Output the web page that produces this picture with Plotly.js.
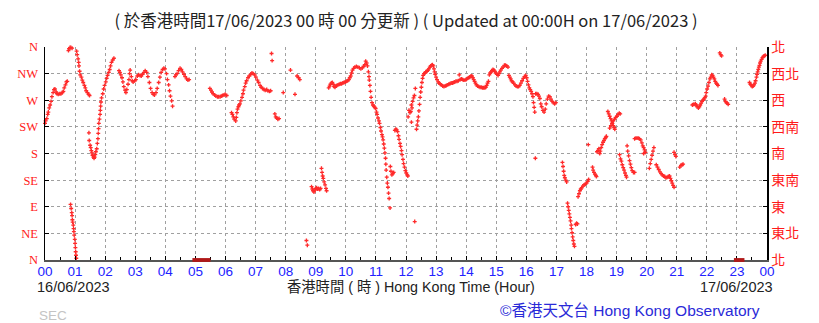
<!DOCTYPE html>
<html>
<head>
<meta charset="utf-8">
<script src="https://cdn.plot.ly/plotly-3.0.1.min.js"></script>
<style>html,body{margin:0;padding:0;background:#fff;}#chart{width:819px;height:323px;}</style>
</head>
<body>
<div id="chart"></div>
<script>
// Hour of day (16/06/2023 00:00 -> 17/06/2023 00:00)
const hours = [
0.00,0.02,0.06,0.09,0.11,0.14,0.17,0.20,0.23,0.27,0.30,0.33,0.37,0.40,0.44,0.49,0.53,0.58,0.61,0.64,0.68,0.71,0.74,
0.78,0.80,0.83,0.86,0.90,
0.85,0.87,0.89,0.90,0.91,0.92,0.94,0.95,0.96,0.97,0.99,1.00,1.01,1.02,1.03,1.04,
1.05,1.07,1.10,1.12,1.13,1.15,1.17,1.21,1.24,1.27,1.31,1.34,1.37,1.41,1.45,1.48,
1.46,1.47,1.50,1.52,1.54,1.56,1.58,1.61,1.63,1.65,1.67,1.69,1.72,1.74,1.76,1.77,1.78,1.79,1.81,1.83,1.84,1.85,1.86,1.88,1.92,1.95,1.98,2.02,2.05,2.08,2.12,2.15,2.18,2.21,2.25,2.29,
2.46,2.49,2.52,2.56,2.59,2.62,2.66,2.69,2.72,2.76,2.79,2.81,2.83,2.87,2.90,2.93,2.98,3.02,3.07,3.11,3.16,3.20,3.24,3.29,3.33,3.38,3.42,3.47,3.51,3.56,3.60,3.64,3.69,3.73,3.78,3.82,3.86,3.91,3.95,3.99,4.04,4.07,4.11,4.14,4.17,4.21,4.24,
4.32,4.35,4.39,4.44,4.49,4.53,4.57,4.62,4.66,4.71,4.75,4.79,
5.48,5.52,5.55,5.59,5.64,5.68,5.73,5.77,5.82,5.86,5.90,5.95,5.99,6.04,
6.20,6.23,6.26,6.29,6.34,6.36,6.38,6.40,6.43,6.45,6.48,6.51,6.55,6.58,6.60,6.64,6.67,6.70,6.75,6.79,6.84,6.88,6.92,6.97,7.01,7.06,7.10,7.15,7.19,7.23,7.28,7.32,7.37,7.41,7.46,7.50,
7.53,7.55,7.64,7.67,7.70,7.74,7.78,7.92,8.16,8.31,8.38,8.43,8.47,8.69,8.72,
8.86,8.89,8.91,8.94,8.97,9.00,9.03,9.06,9.09,9.13,9.16,9.19,9.21,9.23,9.25,9.28,9.31,9.34,9.36,
9.43,9.46,9.49,9.52,9.55,9.58,9.61,9.64,9.67,9.70,9.74,9.78,9.82,9.86,9.90,9.94,9.98,10.02,10.06,10.10,10.13,10.16,10.19,10.22,10.26,10.30,10.35,10.40,10.45,10.50,10.55,10.59,10.63,10.66,10.69,10.72,
10.75,10.77,10.78,10.80,10.82,10.84,10.87,10.90,10.93,10.96,10.99,11.02,11.04,11.07,11.10,11.12,11.15,11.17,11.20,11.22,11.24,11.26,11.28,11.30,11.32,11.33,11.34,11.36,11.38,11.40,11.42,11.44,11.47,
11.48,11.50,11.53,11.56,11.59,
11.63,11.66,11.69,11.72,11.75,11.77,11.80,11.82,11.85,11.87,11.90,11.92,11.95,11.98,12.01,12.04,12.06,
12.07,12.10,12.13,12.16,12.18,12.18,12.20,12.22,12.25,12.28,12.31,12.29,
12.35,12.37,12.39,12.41,12.43,12.45,12.47,12.49,12.51,12.53,12.55,12.57,12.60,
12.63,12.66,12.70,12.73,12.76,12.79,12.82,12.85,12.88,12.91,12.93,12.95,12.97,13.00,13.03,13.07,13.10,13.14,13.18,13.22,13.26,13.30,13.34,13.38,13.42,13.46,13.50,13.54,13.58,13.62,13.66,13.70,13.74,13.77,13.80,13.84,13.88,13.92,13.96,14.00,14.04,14.08,14.12,14.16,14.19,14.22,14.25,14.28,14.31,14.34,14.38,14.42,14.46,14.50,14.54,14.58,14.62,14.65,14.68,14.71,14.74,14.77,14.80,14.83,14.86,14.89,14.92,14.95,14.98,15.02,15.06,15.09,15.12,15.15,15.19,15.23,15.27,15.31,15.35,15.39,15.42,15.45,15.48,15.51,15.54,15.58,15.62,15.66,15.70,15.74,15.78,15.82,15.86,15.90,15.94,15.98,
16.01,16.04,16.07,16.10,16.13,16.16,16.19,16.22,16.24,16.26,16.28,
16.31,16.35,16.39,16.42,16.45,16.48,16.51,16.55,16.59,16.63,16.66,16.70,16.74,16.78,16.82,16.86,16.90,16.94,16.98,16.30,
17.20,17.22,17.24,17.26,17.28,17.31,17.34,
17.37,17.39,17.41,17.43,17.45,17.47,17.49,17.50,17.52,17.54,17.56,17.58,17.60,
17.64,17.67,17.70,
17.72,17.75,17.78,17.81,17.84,17.88,17.92,17.96,18.00,18.04,18.07,18.06,
18.20,18.22,18.25,18.28,18.31,18.33,
18.35,18.38,18.41,18.44,18.46,18.49,18.52,18.55,18.58,18.61,18.64,18.66,
18.71,18.74,18.77,18.80,18.83,18.86,18.89,18.92,18.94,
18.77,18.81,18.85,18.89,18.93,18.97,19.01,19.05,19.09,19.12,
19.10,19.13,19.16,19.19,19.22,19.25,19.28,19.31,19.33,
19.35,19.37,19.40,19.43,19.46,19.49,19.52,19.56,19.60,
19.60,19.64,19.68,19.72,19.76,19.80,19.84,19.87,19.90,19.93,19.96,19.90,
20.09,20.12,20.15,20.18,20.21,20.24,
20.32,20.36,20.40,20.44,20.48,20.52,20.56,20.60,20.64,20.68,20.72,20.76,20.79,20.82,20.85,20.88,20.91,
20.91,20.94,20.97,
21.10,21.14,21.18,21.21,
21.52,21.55,21.58,21.62,21.65,21.68,21.72,21.75,21.78,21.81,21.84,21.87,21.90,21.93,21.96,21.98,22.01,22.04,22.07,22.10,22.13,22.16,22.19,22.22,22.25,22.28,22.31,22.34,22.37,
22.43,22.46,22.49,
22.59,22.62,22.65,22.68,22.71,
23.42,23.45,23.48,23.51,23.54,23.57,23.60,23.62,23.65,23.67,23.69,23.71,23.73,23.75,23.77,23.79,23.82,23.85,23.88,23.91,23.94
];
// Wind direction in degrees (0 = N, 90 = E, 180 = S, 270 = W, 360 = N)
const directions = [
231,235,239,246,250,257,262,268,276,283,288,289,284,281,280,281,281,283,285,291,296,301,302,
354,357,359,359,358,
94,87,80,75,68,64,59,53,48,42,35,28,21,14,8,3,
353,347,340,334,328,319,313,309,304,300,295,291,286,283,280,278,
215,202,194,190,185,181,177,174,172,174,178,183,188,197,205,214,222,231,238,246,253,260,267,274,281,289,295,301,307,312,317,322,328,334,338,341,
320,317,313,308,301,293,287,283,288,297,305,315,321,310,303,301,303,305,311,313,312,311,314,317,320,317,310,300,290,283,280,279,283,290,300,309,317,322,324,323,315,305,296,286,277,269,260,
310,313,315,320,324,322,318,314,310,306,304,305,
290,287,284,281,279,277,276,276,276,277,278,279,280,278,
249,246,242,238,235,241,249,255,259,262,264,269,275,281,287,293,299,303,308,311,314,316,315,313,309,304,300,295,292,290,288,287,288,286,285,286,
349,337,247,242,240,238,239,283,321,280,311,308,305,33,25,
124,120,117,115,118,121,122,120,121,119,121,155,148,142,138,132,127,121,117,
291,294,297,299,300,297,293,292,294,295,296,297,298,298,299,300,301,302,303,305,308,311,316,321,324,326,327,326,325,323,325,327,330,336,333,328,
318,310,304,295,285,275,266,262,260,258,256,250,246,240,235,231,224,218,212,208,203,196,189,181,172,162,152,140,130,123,113,104,88,
158,150,144,146,148,
219,221,220,217,210,204,197,192,185,178,170,163,157,151,147,144,142,
242,253,249,251,262,233,257,268,274,278,290,65,
221,228,235,242,252,263,275,284,292,300,307,312,315,
316,318,319,321,323,326,328,329,330,328,323,318,314,309,305,301,299,297,296,294,293,294,295,296,297,298,299,299,300,301,302,302,303,313,305,306,305,304,304,305,307,308,309,311,311,308,305,302,299,296,294,293,292,292,291,291,291,292,295,299,302,313,316,318,320,322,321,319,316,314,312,315,318,321,324,326,329,329,328,326,312,309,306,303,301,299,296,294,293,293,295,299,303,307,310,312,
308,302,296,291,288,285,281,276,266,258,250,
281,281,280,277,273,264,259,253,250,255,264,272,277,276,272,268,266,264,266,172,
165,158,150,143,139,135,132,
96,90,84,78,72,66,59,53,46,39,33,27,23,
60,62,61,
107,112,117,120,122,125,127,128,130,133,136,195,
157,152,148,145,143,141,
183,185,188,180,184,190,195,199,202,205,207,209,
251,247,243,239,235,231,227,224,221,
223,227,231,235,238,241,243,246,248,247,
178,171,167,161,156,152,147,143,140,
193,184,176,168,162,156,151,148,148,
205,206,206,206,205,203,198,193,190,186,182,180,
155,163,170,177,184,190,
161,157,153,149,146,144,142,141,139,140,141,142,138,134,130,126,123,
182,178,175,
157,160,161,162,
262,263,263,264,262,259,257,259,262,265,268,270,272,274,277,283,289,294,300,306,309,313,312,309,306,302,299,297,295,
350,347,345,
272,268,266,265,263,
300,297,295,293,294,296,299,303,309,314,318,322,326,329,333,336,339,342,344,345,346
];
// Periods shown with a dark red bar on the time axis
const gapStart = [4.90, 22.90];
const gapEnd = [5.50, 23.25];

const hourTicks = [0,1,2,3,4,5,6,7,8,9,10,11,12,13,14,15,16,17,18,19,20,21,22,23,24];
const hourLabels = ['00','01','02','03','04','05','06','07','08','09','10','11','12','13','14','15','16','17','18','19','20','21','22','23','00'];
const dirTicks = [0,45,90,135,180,225,270,315,360];
const dirLabelsEn = ['N','NE','E','SE','S','SW','W','NW','N'];
const dirLabelsZh = ['北','東北','東','東南','南','西南','西','西北','北'];

const traces = [
  {x: hours, y: directions, type: 'scatter', mode: 'markers',
   marker: {symbol: 'cross', size: 3.3, color: '#ff2a2a', line: {width: 0}},
   hoverinfo: 'skip', cliponaxis: false},
  {x: [hourTicks[0]], y: [dirTicks[0]], yaxis: 'y2', type: 'scatter', mode: 'markers',
   marker: {size: 1, opacity: 0}, hoverinfo: 'skip', showlegend: false}
];

const shapes = gapStart.map((s, i) => ({
  type: 'rect', xref: 'x', yref: 'paper', x0: s, x1: gapEnd[i], y0: -0.009, y1: 0.009,
  fillcolor: '#b01818', line: {width: 0}, layer: 'above'
}));

const sans = 'Liberation Sans, Noto Sans CJK TC, sans-serif';
const layout = {
  width: 819, height: 323,
  margin: {l: 45, r: 52, t: 47, b: 63},
  paper_bgcolor: '#ffffff', plot_bgcolor: '#ffffff',
  showlegend: false,
  title: {text: '( 於香港時間17/06/2023 00 時 00 分更新 ) ( Updated at 00:00H on 17/06/2023 )',
          x: 0.5, xref: 'paper', y: 0.935, yref: 'container', yanchor: 'middle',
          font: {family: 'Noto Sans CJK TC, sans-serif', size: 16.5, color: '#222'}},
  xaxis: {range: [0, 24], tickmode: 'array', tickvals: hourTicks, ticktext: hourLabels,
          tickfont: {family: sans, size: 13.5, color: '#2222ff'},
          ticks: 'inside', ticklen: 4, tickcolor: '#000', ticklabelstandoff: -2,
          minor: {tickmode: 'linear', tick0: 0, dtick: 0.5, ticks: 'inside', ticklen: 3, tickcolor: '#000', showgrid: false},
          showgrid: true, gridcolor: '#a0a0a0', griddash: 'dot', gridwidth: 1,
          showline: true, linecolor: '#555', linewidth: 2, zeroline: false, fixedrange: true},
  yaxis: {range: [0, 360], tickmode: 'array', tickvals: dirTicks, ticktext: dirLabelsEn,
          tickfont: {family: 'Liberation Serif, serif', size: 12.5, color: '#ff1a1a'},
          ticks: 'inside', ticklen: 4, tickcolor: '#000', ticklabelstandoff: 3,
          showgrid: true, gridcolor: '#a0a0a0', griddash: 'dot', gridwidth: 1,
          showline: true, linecolor: '#000', linewidth: 1.5, zeroline: false, fixedrange: true},
  yaxis2: {range: [0, 360], overlaying: 'y', side: 'right', tickmode: 'array', tickvals: dirTicks, ticktext: dirLabelsZh,
           tickfont: {family: 'Noto Sans CJK TC, sans-serif', size: 14, color: '#ff1a1a'},
           ticks: 'inside', ticklen: 4, tickcolor: '#000',
           showgrid: false, showline: true, linecolor: '#000', linewidth: 1.5, zeroline: false, fixedrange: true},
  shapes: shapes,
  annotations: [
    {text: '16/06/2023', xref: 'paper', yref: 'paper', x: -0.014, y: -0.125, xanchor: 'left', yanchor: 'middle', showarrow: false,
     font: {family: sans, size: 14.5, color: '#222'}},
    {text: '香港時間 ( 時 ) Hong Kong Time (Hour)', xref: 'paper', yref: 'paper', x: 0.5076, y: -0.125, xanchor: 'center', yanchor: 'middle', showarrow: false,
     font: {family: sans, size: 14.3, color: '#222'}},
    {text: '17/06/2023', xref: 'paper', yref: 'paper', x: 1.011, y: -0.125, xanchor: 'right', yanchor: 'middle', showarrow: false,
     font: {family: sans, size: 14.5, color: '#222'}},
    {text: '©香港天文台 Hong Kong Observatory', xref: 'paper', yref: 'paper', x: 0.993, y: -0.238, xanchor: 'right', yanchor: 'middle', showarrow: false,
     font: {family: sans, size: 15.5, color: '#2a2ad8'}},
    {text: 'SEC', xref: 'paper', yref: 'paper', x: -0.011, y: -0.262, xanchor: 'left', yanchor: 'middle', showarrow: false,
     font: {family: sans, size: 13.5, color: '#c4c4c4'}}
  ]
};

Plotly.newPlot('chart', traces, layout, {staticPlot: true, displayModeBar: false});
</script>
</body>
</html>
